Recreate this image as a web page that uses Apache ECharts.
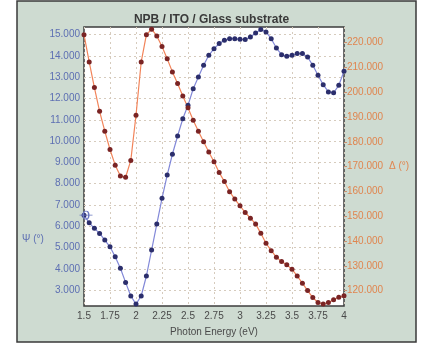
<!DOCTYPE html>
<html>
<head>
<meta charset="utf-8">
<script src="https://cdn.jsdelivr.net/npm/echarts@6/dist/echarts.min.js"></script>
<style>
  html, body { margin: 0; padding: 0; background: #ffffff; }
  #chart { width: 423px; height: 347px; }
</style>
</head>
<body>
<div id="chart"></div>
<script>
// photon energy (eV), one point every 0.05
const energy = [
  1.50, 1.55, 1.60, 1.65, 1.70, 1.75, 1.80, 1.85, 1.90, 1.95,
  2.00, 2.05, 2.10, 2.15, 2.20, 2.25, 2.30, 2.35, 2.40, 2.45,
  2.50, 2.55, 2.60, 2.65, 2.70, 2.75, 2.80, 2.85, 2.90, 2.95,
  3.00, 3.05, 3.10, 3.15, 3.20, 3.25, 3.30, 3.35, 3.40, 3.45,
  3.50, 3.55, 3.60, 3.65, 3.70, 3.75, 3.80, 3.85, 3.90, 3.95, 4.00
]
// Psi (deg), left axis
const psi = [
  6.52, 6.16, 5.90, 5.66, 5.35, 5.03, 4.56, 4.02, 3.36, 2.72,
  2.34, 2.72, 3.66, 4.88, 6.10, 7.31, 8.40, 9.38, 10.24, 11.05,
  11.68, 12.46, 13.01, 13.56, 14.03, 14.34, 14.58, 14.74, 14.81, 14.81,
  14.78, 14.77, 14.89, 15.08, 15.24, 15.13, 14.81, 14.37, 14.06, 13.98,
  14.03, 14.11, 14.11, 13.95, 13.56, 13.09, 12.65, 12.31, 12.27, 12.62, 13.28
]
// Delta (deg), right axis
const delta = [
  223.2, 212.2, 201.9, 192.3, 184.3, 176.9, 170.6, 166.2, 165.7, 172.5,
  190.7, 212.2, 223.2, 225.4, 222.7, 218.4, 213.5, 208.2, 203.5, 198.5,
  193.7, 188.7, 184.3, 180.0, 175.9, 172.0, 167.6, 164.0, 159.9, 156.9,
  154.2, 151.5, 149.2, 146.9, 143.1, 139.1, 136.1, 133.5, 131.7, 130.4,
  128.6, 125.9, 123.0, 120.0, 117.2, 115.2, 114.6, 115.2, 116.3, 117.3, 117.9
]
const psiTicks = [3, 4, 5, 6, 7, 8, 9, 10, 11, 12, 13, 14, 15]
const deltaTicks = [120, 130, 140, 150, 160, 170, 180, 190, 200, 210, 220]

const font = 'Liberation Sans'
const blueText = '#5d6fb3'
const orangeText = '#e0854f'
const gridColor = '#d6cbbd'

const chart = echarts.init(document.getElementById('chart'), null, { renderer: 'canvas' })

const option = {
  animation: false,
  textStyle: { fontFamily: font },
  title: {
    text: 'NPB / ITO / Glass substrate',
    left: 'center',
    top: 9,
    textStyle: { fontSize: 12, fontWeight: 'bold', color: '#3a3a3a', fontFamily: font }
  },
  graphic: [
    {
      type: 'rect',
      z: -10,
      shape: { x: 17, y: 1, width: 399, height: 341 },
      style: { fill: '#cedbd1', stroke: '#3a3a3a', lineWidth: 1.5 }
    },
    {
      type: 'text',
      left: 22,
      top: 234,
      style: { text: 'Ψ (°)', fill: blueText, font: '10px "Liberation Sans"' }
    }
  ],
  grid: {
    left: 84,
    right: 79,
    top: 27,
    bottom: 41,
    show: true,
    backgroundColor: '#ffffff',
    borderColor: '#3c3c3c',
    borderWidth: 1.5
  },
  xAxis: {
    type: 'value',
    min: 1.5,
    max: 4,
    interval: 0.25,
    name: 'Photon Energy (eV)',
    nameLocation: 'middle',
    nameGap: 21,
    nameTextStyle: { color: '#4a4a4a', fontSize: 10 },
    axisLine: { show: false },
    axisTick: { show: false },
    axisLabel: { color: '#4a4a4a', fontSize: 10, margin: 5 },
    splitLine: { show: true, lineStyle: { color: gridColor, type: [2, 3], width: 1 } }
  },
  yAxis: [
    {
      type: 'value',
      min: 2.25,
      max: 15.36,
      axisLine: { show: false },
      axisTick: { show: false, customValues: psiTicks },
      axisLabel: {
        color: blueText,
        fontSize: 10,
        margin: 4,
        customValues: psiTicks,
        formatter: v => v.toFixed(3)
      },
      splitLine: { show: true, lineStyle: { color: gridColor, type: [2, 3], width: 1 } }
    },
    {
      type: 'value',
      position: 'right',
      min: 113.8,
      max: 226.3,
      name: 'Δ (°)',
      nameLocation: 'middle',
      nameRotate: 0,
      nameGap: 54,
      nameTextStyle: { color: orangeText, fontSize: 10, align: 'left', padding: [0, 0, 0, -12] },
      axisLine: { show: false },
      axisTick: { show: true, length: 3, customValues: deltaTicks, lineStyle: { color: '#c89070' } },
      axisLabel: {
        color: orangeText,
        fontSize: 10,
        margin: 3,
        customValues: deltaTicks,
        formatter: v => v.toFixed(3)
      },
      splitLine: { show: false }
    }
  ],
  series: [
    {
      name: 'Psi',
      type: 'line',
      yAxisIndex: 0,
      data: energy.map((e, i) => [e, psi[i]]),
      symbol: 'circle',
      symbolSize: 5,
      lineStyle: { color: '#8288d8', width: 1.2 },
      itemStyle: { color: '#2b2e6c' },
      markPoint: {
        symbol: 'path://M0,4 L14,4 M4,4 A3,3 0 1 1 10,4 A3,3 0 1 1 4,4 Z',
        symbolSize: [13, 8],
        symbolOffset: [2, 0],
        itemStyle: { color: 'transparent', borderColor: '#6a78c0', borderWidth: 1.2 },
        label: { show: false },
        data: [{ coord: [energy[0], psi[0]] }]
      }
    },
    {
      name: 'Delta',
      type: 'line',
      yAxisIndex: 1,
      data: energy.map((e, i) => [e, delta[i]]),
      symbol: 'circle',
      symbolSize: 5,
      lineStyle: { color: '#f2845a', width: 1.2 },
      itemStyle: { color: '#7a2424' }
    }
  ]
}

chart.setOption(option)
</script>
</body>
</html>
